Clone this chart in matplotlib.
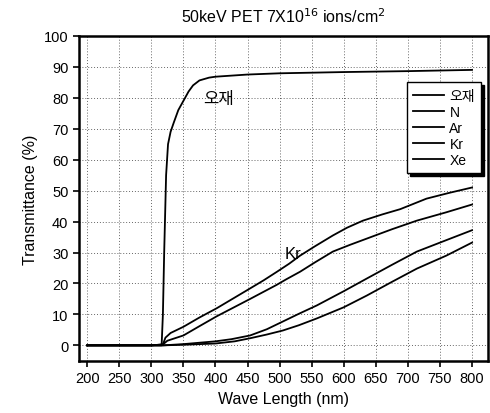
import matplotlib
matplotlib.use("Agg")
import matplotlib.pyplot as plt

plt.rcParams['font.family'] = ['Liberation Sans', 'Noto Sans CJK KR', 'DejaVu Sans']

# Base material (오재)
base_x = [200, 250, 300, 316, 318, 320, 323, 326, 330, 335, 342, 350, 358, 365, 375, 390, 400, 450, 500, 600, 700, 800]
base_y = [0, 0, 0, 0, 10, 30, 55, 65, 69, 72, 76, 79, 82, 84, 85.6, 86.5, 86.8, 87.5, 87.9, 88.3, 88.6, 89.0]

# Kr (top ion curve)
kr_x = [200, 300, 318, 322, 330, 350, 375, 402, 428, 454, 475, 496, 515, 532, 555, 583, 605, 630, 660, 688, 729, 765, 800]
kr_y = [0, 0, 0.3, 2.5, 4.0, 6.0, 9.0, 12.0, 15.2, 18.4, 21.0, 23.8, 26.4, 29.0, 32.0, 35.5, 38.0, 40.3, 42.3, 44.0, 47.4, 49.3, 51.0]

# Xe (second curve)
xe_x = [200, 300, 318, 325, 350, 375, 402, 428, 454, 495, 510, 532, 555, 583, 610, 636, 675, 714, 760, 800]
xe_y = [0, 0, 0.3, 1.5, 3.2, 6.2, 9.4, 12.2, 15.0, 19.5, 21.3, 23.8, 26.8, 30.3, 32.5, 34.5, 37.5, 40.3, 43.0, 45.5]

# Ar (third curve)
ar_x = [200, 300, 318, 350, 400, 425, 454, 480, 505, 530, 558, 600, 636, 675, 714, 760, 800]
ar_y = [0, 0, 0, 0.4, 1.3, 2.0, 3.2, 5.2, 7.7, 10.2, 12.9, 17.5, 21.6, 26.0, 30.3, 34.0, 37.2]

# N (lowest curve)
n_x = [200, 300, 318, 350, 400, 430, 454, 480, 505, 530, 558, 600, 636, 675, 714, 760, 800]
n_y = [0, 0, 0, 0.2, 0.6, 1.3, 2.3, 3.5, 4.8, 6.5, 8.7, 12.3, 16.1, 20.5, 24.8, 29.0, 33.2]

xticks = list(range(200, 801, 50))
yticks = list(range(0, 101, 10))

fig = plt.figure(figsize=(4.9, 4.14), dpi=100)
ax = fig.add_axes([0.161, 0.126, 0.835, 0.785])

lw = 1.3
ax.plot(base_x, base_y, color='k', lw=lw, label='오재')
ax.plot(n_x, n_y, color='k', lw=lw, label='N')
ax.plot(ar_x, ar_y, color='k', lw=lw, label='Ar')
ax.plot(kr_x, kr_y, color='k', lw=lw, label='Kr')
ax.plot(xe_x, xe_y, color='k', lw=lw, label='Xe')

ax.set_xlim(187, 825)
ax.set_ylim(-5, 100)
ax.set_xticks(xticks)
ax.set_yticks(yticks)
ax.tick_params(labelsize=10.5, direction='out', length=4, width=1.2)
ax.grid(True, linestyle=(0, (1, 2)), color='k', lw=0.7, alpha=0.6)
for s in ax.spines.values():
    s.set_linewidth(1.8)

ax.set_xlabel('Wave Length (nm)', fontsize=11.5)
ax.set_ylabel('Transmittance (%)', fontsize=11.5)
ax.set_title('50keV PET 7X10$^{16}$ ions/cm$^2$', fontsize=11.5, pad=10)

ax.text(404, 79.7, '오재', fontsize=12, ha='center', va='center')
ax.text(521, 29.6, 'Kr', fontsize=12, ha='center', va='center')

leg = ax.legend(loc='upper left', bbox_to_anchor=(0.802, 0.857), fontsize=10,
                frameon=True, fancybox=False, edgecolor='k', handlelength=2.2,
                handletextpad=0.4, labelspacing=0.15, borderpad=0.45,
                borderaxespad=0.0,
                shadow={'color': 'k', 'alpha': 1})
leg.get_frame().set_linewidth(1.0)

fig.savefig('out.png', dpi=100)
